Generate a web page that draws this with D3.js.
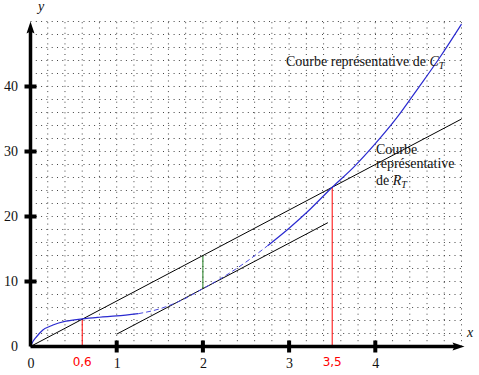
<!DOCTYPE html>
<html>
<head>
<meta charset="utf-8">
<script src="https://cdn.jsdelivr.net/npm/d3@7"></script>
<style>
  body { margin: 0; background: #fff; }
  svg { display: block; }
  .lbl { font-family: "Liberation Serif", serif; font-size: 14px; fill: #111; }
  .ticklbl text { font-family: "Liberation Serif", serif; font-size: 14px; fill: #111; }
  .red { font-family: "DejaVu Sans", sans-serif; font-size: 12px; fill: #f00; }
  .grid { stroke: #444; stroke-width: 1; stroke-dasharray: 1,4.3; }
</style>
</head>
<body>
<div id="chart"></div>
<script>
// C_T curve
var ctX = [0, 0.03, 0.07, 0.14, 0.26, 0.41, 0.6, 0.8, 1.0, 1.25, 1.5, 1.75, 2.0, 2.25, 2.5, 2.75, 3.0, 3.25, 3.5, 3.75, 4.0, 4.25, 4.5, 4.75, 5.0];
var ctY = [0, 0.8, 1.5, 2.5, 3.3, 3.9, 4.25, 4.5, 4.7, 5.05, 5.8, 7.1, 8.9, 10.8, 13.0, 15.5, 18.2, 21.2, 24.5, 27.6, 31.2, 35.2, 39.8, 44.5, 49.6];
// R_T line and its parallel tangent
var rtX = [0, 5], rtY = [0, 35];
var tgX = [1, 3.45], tgY = [1.9, 19.05];
var xTicks = [1, 2, 3, 4];
var yTicks = [10, 20, 30, 40];
var redX = [0.6, 3.5], redY = [4.2, 24.5], redLbl = ["0,6", "3,5"];
var greenX = 2, greenY = [8.9, 14];

var W = 479, H = 375;
var x = d3.scaleLinear().domain([0, 5]).range([30.5, 461.5]);
var y = d3.scaleLinear().domain([0, 50]).range([346.5, 21.5]);

var svg = d3.select("#chart").append("svg").attr("width", W).attr("height", H);

// dotted grid
var g = svg.append("g");
g.selectAll("line.h").data(d3.range(2, 51, 2)).enter().append("line")
  .attr("class", "grid")
  .attr("x1", x(0)).attr("x2", x(5))
  .attr("y1", function(d) { return y(d); }).attr("y2", function(d) { return y(d); });
g.selectAll("line.v").data(d3.range(1, 26).map(function(i) { return i * 0.2; })).enter().append("line")
  .attr("class", "grid")
  .attr("y1", y(0)).attr("y2", y(50))
  .attr("x1", function(d) { return x(d); }).attr("x2", function(d) { return x(d); });

var line = d3.line().x(function(d) { return x(d[0]); }).y(function(d) { return y(d[1]); });

// vertical markers
redX.forEach(function(v, i) {
  svg.append("line").attr("x1", x(v)).attr("x2", x(v)).attr("y1", y(0)).attr("y2", y(redY[i]))
    .attr("stroke", "#f00").attr("stroke-width", 1);
});
svg.append("line").attr("x1", x(greenX)).attr("x2", x(greenX)).attr("y1", y(greenY[0])).attr("y2", y(greenY[1]))
  .attr("stroke", "#1a7a1a").attr("stroke-width", 1);

// R_T and tangent
svg.append("path").attr("d", line(d3.zip(rtX, rtY))).attr("fill", "none").attr("stroke", "#000").attr("stroke-width", 1);
svg.append("path").attr("d", line(d3.zip(tgX, tgY))).attr("fill", "none").attr("stroke", "#000").attr("stroke-width", 1);

// C_T curve: solid ends, dashed middle
var ct = d3.zip(ctX, ctY);
var cline = d3.line().x(function(d) { return x(d[0]); }).y(function(d) { return y(d[1]); }).curve(d3.curveMonotoneX);
var ctMid = ct.filter(function(d) { return d[0] >= 1.25 && d[0] <= 2.75; });
var ctA = ct.filter(function(d) { return d[0] <= 1.25; });
var ctB = ct.filter(function(d) { return d[0] >= 2.75; });
[ctA, ctB].forEach(function(p) {
  svg.append("path").attr("d", cline(p)).attr("fill", "none").attr("stroke", "#2a2ad0").attr("stroke-width", 1.2);
});
svg.append("path").attr("d", cline(ctMid)).attr("fill", "none").attr("stroke", "#4a4ae0")
  .attr("stroke-width", 1).attr("stroke-dasharray", "5,3");

// axes
var ax = svg.append("g");
ax.append("line").attr("x1", x(0)).attr("x2", x(5) - 6).attr("y1", y(0)).attr("y2", y(0)).attr("stroke", "#000").attr("stroke-width", 3.5);
ax.append("path").attr("d", "M" + (x(5) + 3) + "," + y(0) + " L" + (x(5) - 9) + "," + (y(0) - 4) + " L" + (x(5) - 7) + "," + y(0) + " L" + (x(5) - 9) + "," + (y(0) + 4) + "Z").attr("fill", "#000");
ax.append("line").attr("x1", x(0)).attr("x2", x(0)).attr("y1", y(0)).attr("y2", y(50) + 8).attr("stroke", "#000").attr("stroke-width", 3.5);
ax.append("path").attr("d", "M" + x(0) + "," + (y(50) + 0) + " L" + (x(0) - 4) + "," + (y(50) + 12) + " L" + x(0) + "," + (y(50) + 10) + " L" + (x(0) + 4) + "," + (y(50) + 12) + "Z").attr("fill", "#000");

ax.selectAll("rect.xt").data(xTicks).enter().append("rect")
  .attr("x", function(d) { return x(d) - 2; }).attr("y", y(0) - 6).attr("width", 4).attr("height", 12).attr("fill", "#000");
ax.selectAll("rect.yt").data(yTicks).enter().append("rect")
  .attr("y", function(d) { return y(d) - 2; }).attr("x", x(0) - 6).attr("height", 4).attr("width", 12).attr("fill", "#000");

var xAxis = d3.axisBottom(x).tickValues([0].concat(xTicks)).tickSize(0).tickPadding(0).tickFormat(d3.format("d"));
var gx = svg.append("g").attr("class", "ticklbl").attr("transform", "translate(0," + (y(0) + 12) + ")").call(xAxis);
gx.select(".domain").remove();
gx.selectAll("text").attr("dy", "0.71em");

var yAxis = d3.axisLeft(y).tickValues([0].concat(yTicks)).tickSize(0).tickPadding(0).tickFormat(d3.format("d"));
var gy = svg.append("g").attr("class", "ticklbl").attr("transform", "translate(" + 18 + ",0)").call(yAxis);
gy.select(".domain").remove();

svg.selectAll("text.red").data(redX).enter().append("text").attr("class", "red")
  .attr("x", function(d) { return x(d); }).attr("y", y(0) + 19).attr("text-anchor", "middle")
  .text(function(d, i) { return redLbl[i]; });

svg.append("text").attr("class", "lbl").attr("x", 467).attr("y", 337).attr("font-style", "italic").text("x");
svg.append("text").attr("class", "lbl").attr("x", 38).attr("y", 11).attr("font-style", "italic").text("y");

var t1 = svg.append("text").attr("class", "lbl").attr("x", 286).attr("y", 66);
t1.append("tspan").text("Courbe représentative de ");
t1.append("tspan").attr("font-style", "italic").text("C");
t1.append("tspan").attr("font-style", "italic").attr("font-size", "10px").attr("dy", 3).text("T");

var t2 = svg.append("text").attr("class", "lbl").attr("x", 376).attr("y", 154);
t2.append("tspan").attr("x", 376).text("Courbe");
t2.append("tspan").attr("x", 376).attr("dy", 14).text("représentative");
var t3 = svg.append("text").attr("class", "lbl").attr("x", 376).attr("y", 185);
t3.append("tspan").text("de ");
t3.append("tspan").attr("font-style", "italic").text("R");
t3.append("tspan").attr("font-style", "italic").attr("font-size", "10px").attr("dy", 3).text("T");
</script>
</body>
</html>
